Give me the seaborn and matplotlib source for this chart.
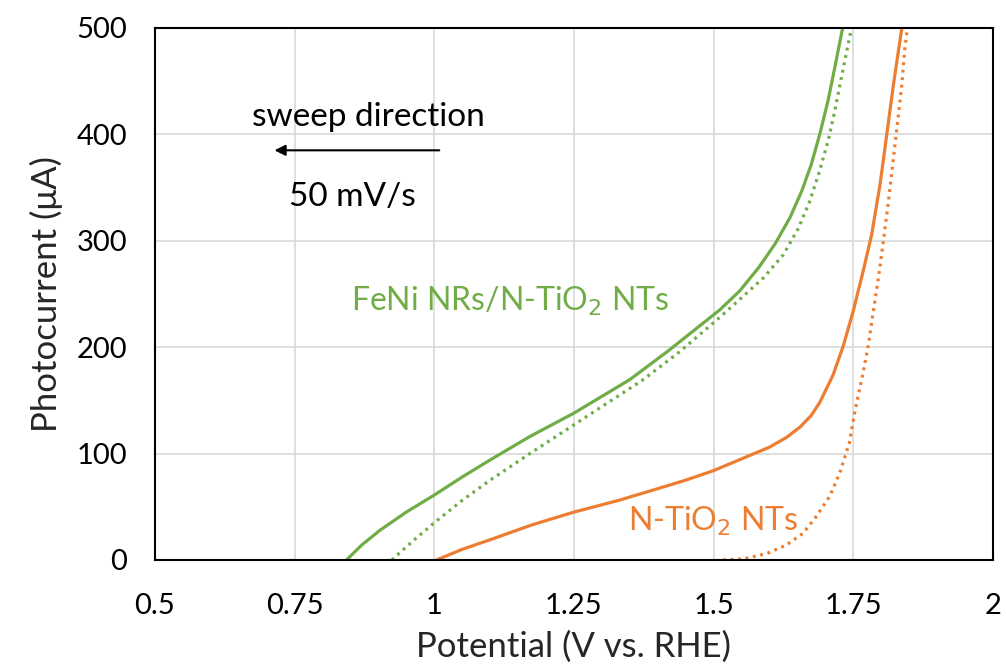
import matplotlib
matplotlib.use("Agg")
import matplotlib.pyplot as plt
import seaborn as sns
import pandas as pd

# Data (potential in V vs RHE, photocurrent in uA)
feni_light_v = [0.843, 0.87, 0.903, 0.95, 1.0, 1.05, 1.1, 1.171, 1.25, 1.35, 1.42, 1.511,
                1.547, 1.581, 1.61, 1.637, 1.658, 1.675, 1.69, 1.705, 1.717, 1.731]
feni_light_i = [0, 14, 28, 45, 61, 78, 94, 116, 138, 169.5, 197, 235,
                253, 275, 297, 322, 347, 372, 400, 432, 463, 500]
feni_dot_v = [0.924, 0.96, 1.0, 1.05, 1.1, 1.171, 1.25, 1.374, 1.44, 1.511, 1.547, 1.589,
              1.625, 1.652, 1.672, 1.69, 1.705, 1.717, 1.729, 1.741, 1.747]
feni_dot_i = [0, 17, 35, 56, 75, 100, 127, 169.5, 196, 228, 245, 265,
              287, 312, 337, 366, 394, 422, 454, 485, 500]
ntio_light_v = [1.004, 1.05, 1.1, 1.175, 1.25, 1.33, 1.4, 1.45, 1.5, 1.55, 1.6, 1.63, 1.655,
                1.675, 1.69, 1.714, 1.732, 1.75, 1.768, 1.783, 1.798, 1.81, 1.822, 1.837]
ntio_light_i = [0, 10, 19, 33, 45, 56, 67, 75, 84, 95, 106, 115, 125,
                136, 148, 174, 201, 234, 272, 306, 353, 400, 447, 500]
ntio_dot_v = [1.517, 1.553, 1.595, 1.63, 1.66, 1.684, 1.708, 1.726, 1.743, 1.753, 1.768,
              1.777, 1.786, 1.795, 1.804, 1.813, 1.822, 1.829, 1.837, 1.842, 1.847]
ntio_dot_i = [0, 1, 6, 14, 25, 41, 60, 82, 110, 140, 177,
              202, 234, 265, 300, 337, 378, 410, 447, 479, 500]

x_ticks = [0.5, 0.75, 1.0, 1.25, 1.5, 1.75, 2.0]
x_tick_labels = ["0.5", "0.75", "1", "1.25", "1.5", "1.75", "2"]
y_ticks = [0, 100, 200, 300, 400, 500]

GREEN = "#70AD47"
ORANGE = "#ED7D31"

sns.set_theme(style="white")
plt.rcParams["font.family"] = ["Lato", "DejaVu Sans"]

fig = plt.figure(figsize=(10.06, 6.72), dpi=100)
ax = fig.add_axes([0.154, 0.1667, 0.833, 0.7917])

series = [
    (feni_light_v, feni_light_i, GREEN, "solid"),
    (feni_dot_v, feni_dot_i, GREEN, "dot"),
    (ntio_light_v, ntio_light_i, ORANGE, "solid"),
    (ntio_dot_v, ntio_dot_i, ORANGE, "dot"),
]
for xv, yv, c, ls in series:
    df = pd.DataFrame({"V": xv, "I": yv})
    if ls == "solid":
        sns.lineplot(data=df, x="V", y="I", ax=ax, color=c, linewidth=2.3,
                     sort=False, estimator=None, zorder=3,
                     solid_joinstyle="round")
    else:
        sns.lineplot(data=df, x="V", y="I", ax=ax, color=c, linewidth=2.3,
                     sort=False, estimator=None, zorder=3,
                     dashes=False, linestyle=(0, (0.9, 1.45)),
                     dash_capstyle="butt")

ax.set_xlim(0.5, 2.0)
ax.set_ylim(0, 500)
ax.set_xticks(x_ticks)
ax.set_xticklabels(x_tick_labels)
ax.set_yticks(y_ticks)
ax.grid(True, color="#D9D9D9", linewidth=1.2)
ax.tick_params(axis="x", length=0, labelsize=21, colors="black", pad=24)
ax.tick_params(axis="y", length=0, labelsize=21, colors="black", pad=20)
for s in ax.spines.values():
    s.set_visible(True)
    s.set_color("black")
    s.set_linewidth(1.5)
    s.set_zorder(4)

ax.set_xlabel("Potential (V vs. RHE)", fontsize=25, labelpad=8)
ax.set_ylabel("Photocurrent (\u03bcA)", fontsize=25, labelpad=10)

ax.text(1.135, 243, "FeNi NRs/N-TiO$_2$ NTs", color=GREEN, fontsize=23,
        ha="center", va="center")
ax.text(1.499, 36, "N-TiO$_2$ NTs", color=ORANGE, fontsize=23,
        ha="center", va="center")
ax.text(0.882, 416, "sweep direction", color="black", fontsize=24,
        ha="center", va="center")
ax.text(0.853, 341, "50 mV/s", color="black", fontsize=24,
        ha="center", va="center")
ax.annotate("", xy=(0.709, 385), xytext=(1.014, 385),
            arrowprops=dict(arrowstyle="-|>", color="black", lw=1.5,
                            mutation_scale=16))

fig.savefig("out.png", dpi=100)
